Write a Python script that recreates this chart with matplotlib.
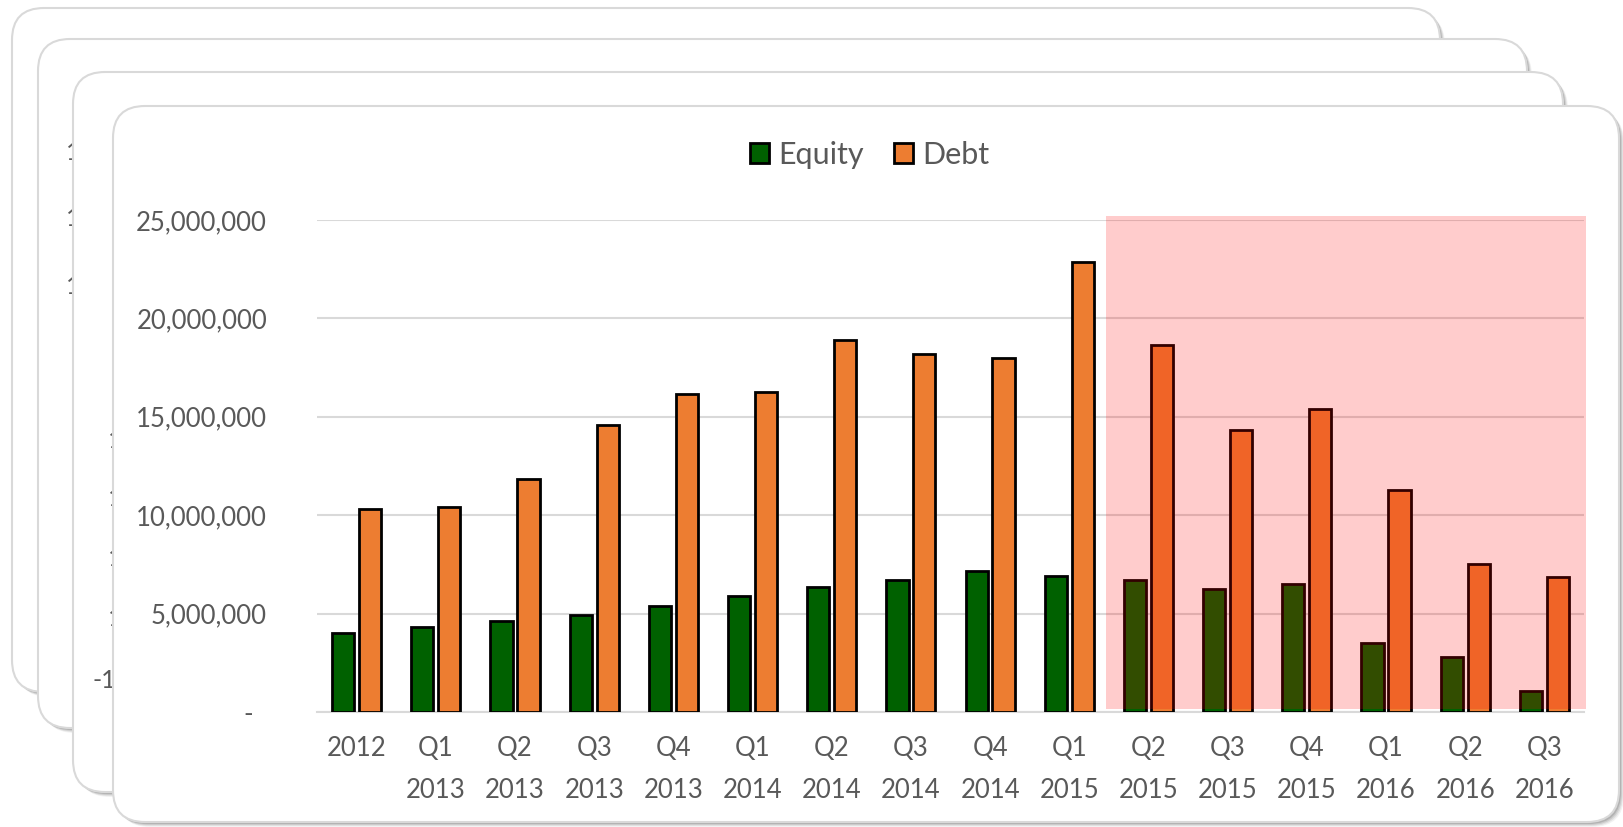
import matplotlib
matplotlib.use('Agg')
import matplotlib.pyplot as plt
from matplotlib.patches import FancyBboxPatch, Rectangle, Patch
from matplotlib.ticker import FuncFormatter
import numpy as np

# data
quarters = ['2012', 'Q1\n2013', 'Q2\n2013', 'Q3\n2013', 'Q4\n2013',
            'Q1\n2014', 'Q2\n2014', 'Q3\n2014', 'Q4\n2014',
            'Q1\n2015', 'Q2\n2015', 'Q3\n2015', 'Q4\n2015',
            'Q1\n2016', 'Q2\n2016', 'Q3\n2016']
equity = [4.0e6, 4.3e6, 4.6e6, 4.95e6, 5.4e6, 5.9e6, 6.35e6, 6.7e6, 7.15e6,
          6.9e6, 6.7e6, 6.25e6, 6.5e6, 3.5e6, 2.8e6, 1.05e6]
debt = [10.3e6, 10.4e6, 11.85e6, 14.6e6, 16.15e6, 16.25e6, 18.9e6, 18.2e6, 18.0e6,
        22.85e6, 18.65e6, 14.35e6, 15.4e6, 11.3e6, 7.5e6, 6.85e6]
shade_from = 'Q2\n2015'

font = 'Lato'
txt_color = '#595959'
green = '#006100'
orange = '#ED7D31'

W, H = 1623, 827
fig = plt.figure(figsize=(W / 100, H / 100), dpi=100)
fig.patch.set_facecolor('white')

# background: stack of rounded "cards", working in pixels
bg = fig.add_axes([0, 0, 1, 1])
bg.set_xlim(0, W)
bg.set_ylim(H, 0)
bg.axis('off')

cards = [(12, 8, 1440, 692), (38, 39, 1527, 728), (73, 72, 1563, 792), (113, 106, 1619, 822)]
z = 1
for i, (x0, y0, x1, y1) in enumerate(cards):
    # soft shadow to the lower right
    for k, a in [(5, 0.05), (4, 0.07), (3, 0.09), (2, 0.12)]:
        bg.add_patch(FancyBboxPatch((x0 + k, y0 + k), x1 - x0, y1 - y0,
                                    boxstyle='round,pad=0,rounding_size=32',
                                    fc='black', ec='none', alpha=a, zorder=z))
    z += 1
    bg.add_patch(FancyBboxPatch((x0, y0), x1 - x0, y1 - y0,
                                boxstyle='round,pad=0,rounding_size=32',
                                fc='white', ec='#D9D9D9', lw=1.5, zorder=z))
    z += 1
    # bits of the hidden charts' tick labels peeking out
    if i == 1:
        for yy in [152, 218, 286]:
            bg.text(66, yy, '10', fontsize=18, family=font, color=txt_color,
                    ha='left', va='center', zorder=z)
    if i == 2:
        for yy in [440, 499, 559, 618]:
            bg.text(108, yy, '1', fontsize=18, family=font, color=txt_color,
                    ha='left', va='center', zorder=z)
        bg.text(92, 680, '-10', fontsize=18, family=font, color=txt_color,
                ha='left', va='center', zorder=z)
    z += 1

# main chart on the front card
ax = fig.add_axes([317 / W, 1 - 712 / H, (1584 - 317) / W, (712 - 220) / H])
ax.patch.set_alpha(0)

x = np.arange(len(quarters))
ax.bar(x - 0.17, equity, 0.28, color=green, edgecolor='black', lw=2.0, zorder=3)
ax.bar(x + 0.17, debt, 0.28, color=orange, edgecolor='black', lw=2.0, zorder=3)

# red tint over the later quarters
i0 = quarters.index(shade_from)
ax.add_patch(Rectangle((i0 - 0.54, 0.15e6), len(quarters) - 0.47 - (i0 - 0.54), 25.05e6,
                       fc='red', ec='none', alpha=0.2, zorder=5, clip_on=False))

ax.set_xlim(-0.5, len(quarters) - 0.5)
ax.set_ylim(0, 25e6)
ax.set_yticks(np.arange(0, 25e6 + 1, 5e6))
ax.yaxis.set_major_formatter(FuncFormatter(lambda v, p: '-  ' if v == 0 else f'{v:,.0f}'))
ax.set_xticks(x)
ax.set_xticklabels(quarters, linespacing=1.85)
ax.yaxis.grid(True, color='#D9D9D9', lw=1.5)
ax.set_axisbelow(True)
for s in ['top', 'right', 'left']:
    ax.spines[s].set_visible(False)
ax.spines['bottom'].set_color('#D9D9D9')
ax.spines['bottom'].set_linewidth(1.5)
ax.tick_params(length=0, labelsize=18.5, labelcolor=txt_color)
ax.tick_params(axis='y', pad=36)
ax.tick_params(axis='x', pad=17)
for lbl in ax.get_xticklabels() + ax.get_yticklabels():
    lbl.set_family(font)

handles = [Patch(fc=green, ec='black', lw=2.0, label='Equity'),
           Patch(fc=orange, ec='black', lw=2.0, label='Debt')]
fig.legend(handles=handles, loc='center', bbox_to_anchor=(0.536, 0.8126), ncol=2,
           frameon=False, prop={'family': font, 'size': 22}, labelcolor=txt_color,
           handlelength=0.62, handleheight=0.62, handletextpad=0.3, columnspacing=1.0)

fig.savefig('out.png', dpi=100)
